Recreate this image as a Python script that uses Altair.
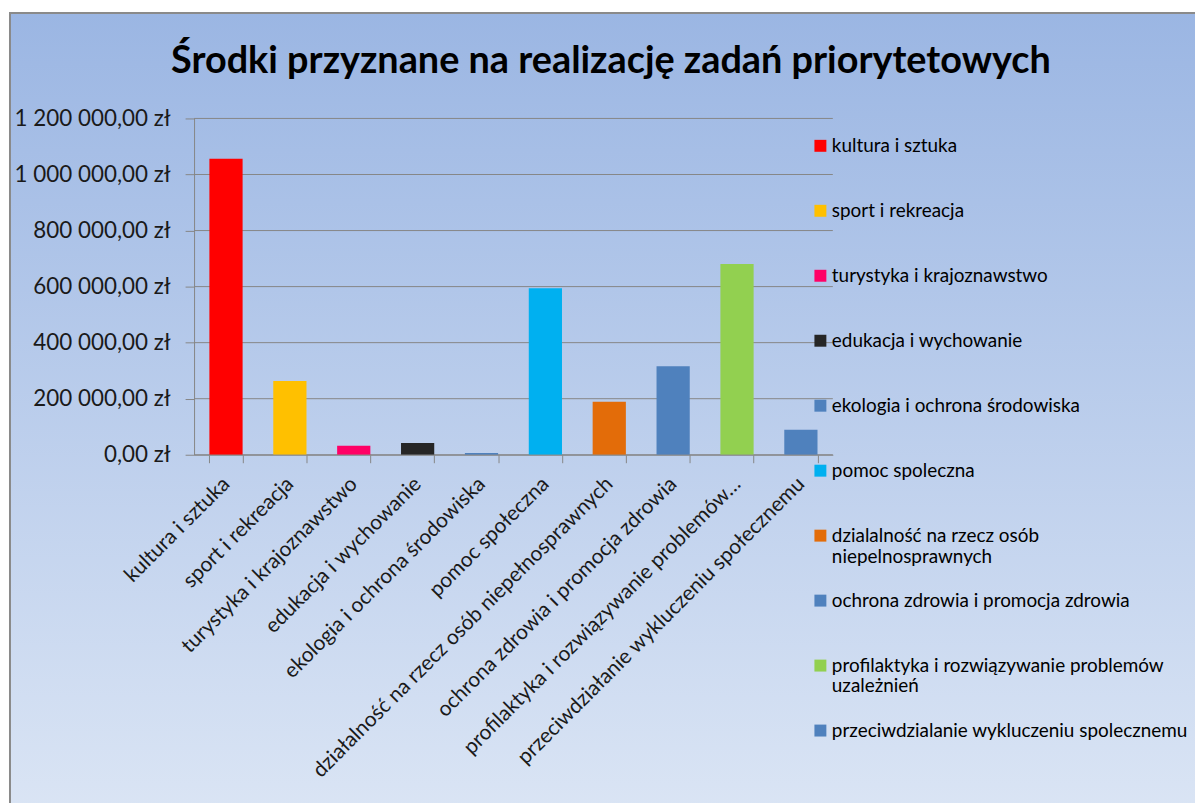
import altair as alt
import pandas as pd

kategorie = [
    "kultura i sztuka",
    "sport i rekreacja",
    "turystyka i krajoznawstwo",
    "edukacja i wychowanie",
    "ekologia i ochrona środowiska",
    "pomoc społeczna",
    "działalność na rzecz osób niepełnosprawnych",
    "ochrona zdrowia i promocja zdrowia",
    "profilaktyka i rozwiązywanie problemów…",
    "przeciwdziałanie wykluczeniu społecznemu",
]
legenda = [
    "kultura i sztuka",
    "sport i rekreacja",
    "turystyka i krajoznawstwo",
    "edukacja i wychowanie",
    "ekologia i ochrona środowiska",
    "pomoc spoleczna",
    "dzialalność na rzecz osób|niepelnosprawnych",
    "ochrona zdrowia i promocja zdrowia",
    "profilaktyka i rozwiązywanie problemów|uzależnień",
    "przeciwdzialanie wykluczeniu spolecznemu",
]
kwoty = [1056000, 263000, 32000, 41500, 6500, 594000, 189000, 316000, 681000, 89000]
kolory = ["#FF0000", "#FFC000", "#FF0066", "#262626", "#4F81BD",
          "#00B0F0", "#E36C09", "#4F81BD", "#92D050", "#4F81BD"]
y_ticks = [0, 200000, 400000, 600000, 800000, 1000000, 1200000]

df = pd.DataFrame({"kategoria": kategorie, "legenda": legenda, "kwota": kwoty})
df_grid = pd.DataFrame({"kwota": y_ticks})

W, H = 642, 338
PL, PT = 187, 109
TOTAL_W, TOTAL_H = 1193, 795
PR = TOTAL_W - PL - W
PB = TOTAL_H - PT - H

FONT = "Lato"
GRID = "#868686"
y_scale = alt.Scale(domain=[0, 1200000], nice=False)
y_axis = alt.Axis(
    title=None, values=y_ticks, format="$,.2f", grid=False,
    labelFontSize=22.5, labelFont=FONT, labelColor="#1a1a1a",
    labelPadding=15, tickSize=9, tickColor=GRID, domainColor=GRID,
    zindex=1,
)

bg = alt.Chart(alt.Data(values=[{"t": 0}])).mark_rect(
    fill=alt.Gradient(
        gradient="linear",
        stops=[alt.GradientStop(color="#9bb6e3", offset=0),
               alt.GradientStop(color="#dce6f5", offset=1)],
        x1=0, x2=0, y1=0, y2=1,
    ),
    stroke="#8a8a8a",
    strokeWidth=2,
).encode(
    x=alt.value(-185), x2=alt.value(1040),
    y=alt.value(-106), y2=alt.value(720),
)

grid = alt.Chart(df_grid).mark_rule(color=GRID, strokeWidth=1).encode(
    y=alt.Y("kwota:Q", scale=y_scale, axis=y_axis),
    x=alt.value(0), x2=alt.value(W),
)

bars = alt.Chart(df).mark_bar().encode(
    x=alt.X(
        "kategoria:N",
        sort=kategorie,
        scale=alt.Scale(paddingInner=0.48, paddingOuter=0.24),
        axis=alt.Axis(
            title=None, labelAngle=-45, labelAlign="right", labelBaseline="middle",
            labelFontSize=21, labelFont=FONT, labelColor="#1a1a1a",
            labelPadding=18, labelLimit=700, labelOverlap=False,
            tickBand="extent", tickSize=8, tickColor=GRID, domainColor=GRID,
            zindex=1,
        ),
    ),
    y=alt.Y("kwota:Q", scale=y_scale, axis=y_axis),
    color=alt.Color(
        "legenda:N",
        sort=legenda,
        scale=alt.Scale(domain=legenda, range=kolory),
        legend=alt.Legend(
            title=None, orient="none", legendX=620, legendY=18,
            symbolType="square", symbolSize=144, symbolStrokeWidth=0,
            symbolOpacity=1, labelFont=FONT, labelFontSize=19,
            labelColor="#000000", labelOffset=2, labelLimit=500,
            labelExpr="split(datum.label, '|')", gridAlign="all",
            rowPadding=24.3, padding=0, zindex=2,
        ),
    ),
)

chart = alt.layer(bg, grid, bars).properties(
    width=W, height=H,
    padding={"left": PL, "top": PT, "right": PR, "bottom": PB},
    autosize=alt.AutoSizeParams(type="none"),
    background="#ffffff",
    title=alt.TitleParams(
        "Środki przyznane na realizację zadań priorytetowych",
        font=FONT, fontSize=38, fontWeight="bold", color="#000000",
        anchor="middle", dx=98, offset=0, dy=69, zindex=2,
    ),
).configure_view(stroke=None).configure(
    locale={"number": {"decimal": ",", "thousands": " ", "grouping": [3],
                       "currency": ["", " zł"]}}
)

chart.save("out.html", embed_options={"renderer": "svg", "actions": False})
